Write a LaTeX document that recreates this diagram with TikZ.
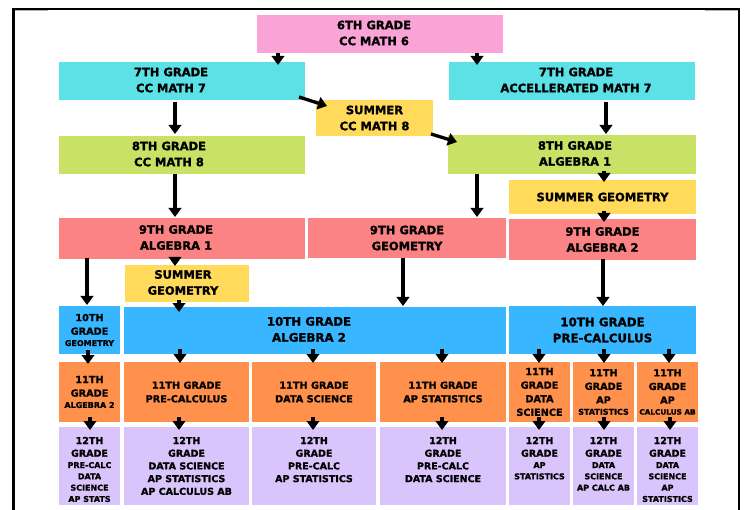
\documentclass[tikz,border=0pt]{standalone}
\usepackage{fontspec}
\setmainfont{DejaVu Sans}[BoldFeatures={FakeBold=1.3}]
\usetikzlibrary{arrows.meta}
\definecolor{cpink}{HTML}{F9A3D7}
\definecolor{ccyan}{HTML}{5CE1E6}
\definecolor{cgreen}{HTML}{C9E265}
\definecolor{cyel}{HTML}{FFDA5B}
\definecolor{csal}{HTML}{FC8383}
\definecolor{cblue}{HTML}{38B6FF}
\definecolor{corange}{HTML}{FF914D}
\definecolor{clav}{HTML}{D9C5FB}
\newcommand\sh[2]{\hspace*{#1}\begin{tabular}{@{}c@{}}#2\end{tabular}\hspace*{-#1}}
\newcommand\fsm{\fontsize{8}{11.3}\selectfont}
\newcommand\fsc{\fontsize{7.3}{11}\selectfont}
\newcommand\tp[2]{\parbox[c][78pt][t]{#1}{\centering\rule{0pt}{17pt}#2}}
\newcommand\cpb[2]{\parbox{#1}{\centering #2}}
\begin{document}
\begin{tikzpicture}[x=1pt,y=-1pt,
  fbig/.style={font=\bfseries\fontsize{11.5}{16}\selectfont},
  ften/.style={font=\bfseries\fontsize{11.8}{16}\selectfont},
  fel/.style={font=\bfseries\fontsize{9.7}{13.6}\selectfont},
  ftw/.style={font=\bfseries\fontsize{9.5}{12.7}\selectfont},
  bx/.style n args={4}{inner sep=0pt, outer sep=0pt, align=center,
    minimum width={(#3-#1)*1pt}, minimum height={(#4-#2)*1pt},
    at={({(#1+#3)/2},{(#2+#4)/2})}, anchor=center, fbig},
  arr/.style={line width=3.3pt, -{Triangle[width=12.5pt,length=9pt]}},
  frame/.style={line width=2.4pt, black}]
\useasboundingbox (0,0) rectangle (746,510);
\fill[white] (0,0) rectangle (746,510);
% frame
\draw[frame] (13.5,511) -- (13.5,9) -- (739,9);
\draw[line width=2pt] (739,8) -- (739,511);
\draw[gray!60, line width=1pt] (15,10.8) -- (48,10.8);
\draw[gray!60, line width=1pt] (705,10.8) -- (737.5,10.8);
% boxes
\node[bx={257}{15}{503}{53}, fill=cpink] (s6) {\sh{-6pt}{6TH GRADE\\CC MATH 6}};
\node[bx={59}{62}{305}{100}, fill=ccyan] (c7) {\sh{-11pt}{7TH GRADE\\CC MATH 7}};
\node[bx={449}{62}{695}{100}, fill=ccyan] (a7) {\sh{4pt}{7TH GRADE\\ACCELLERATED MATH 7}};
\node[bx={316}{100}{433}{136}, fill=cyel] (sm8) {SUMMER\\CC MATH 8};
\node[bx={59}{136}{305}{174}, fill=cgreen] (c8) {\sh{-13pt}{8TH GRADE\\CC MATH 8}};
\node[bx={448}{135}{696}{174}, fill=cgreen] (a8) {\sh{3pt}{8TH GRADE\\ALGEBRA 1}};
\node[bx={509}{180}{696}{214}, fill=cyel] (sgR) {SUMMER GEOMETRY};
\node[bx={59}{218}{305}{259}, fill=csal] (al9) {\sh{-6pt}{9TH GRADE\\ALGEBRA 1}};
\node[bx={308}{218}{506}{258}, fill=csal] (g9) {9TH GRADE\\GEOMETRY};
\node[bx={509}{219}{696}{260}, fill=csal] (al9R) {9TH GRADE\\ALGEBRA 2};
\node[bx={125}{265}{249}{302}, fill=cyel] (sgL) {\sh{-4pt}{SUMMER\\GEOMETRY}};
\node[bx={59}{306}{120}{354}, fill=cblue, fel] (ge10) {\cpb{60pt}{10TH\\GRADE\\\fsm GEOMETRY}};
\node[bx={124}{307}{506}{354}, fill=cblue, ften] (al10) {\sh{-6pt}{10TH GRADE\\ALGEBRA 2}};
\node[bx={509}{306}{696}{354}, fill=cblue, ften] (pc10) {10TH GRADE\\PRE-CALCULUS};
% 11th grade
\node[bx={59}{362}{120}{422}, fill=corange, fel] (al11) {\cpb{60pt}{11TH\\GRADE\\\fsm ALGEBRA 2}};
\node[bx={124}{362}{249}{422}, fill=corange, fel] (pc11) {11TH GRADE\\PRE-CALCULUS};
\node[bx={252}{362}{376}{422}, fill=corange, fel] (ds11) {11TH GRADE\\DATA SCIENCE};
\node[bx={380}{362}{506}{422}, fill=corange, fel] (ap11) {11TH GRADE\\AP STATISTICS};
\node[bx={509}{362}{570}{422}, fill=corange, fel] (ds11R) {11TH\\GRADE\\DATA\\SCIENCE};
\node[bx={573}{362}{634}{422}, fill=corange, fel] (ap11R) {\cpb{61pt}{11TH\\GRADE\\AP\\\fsm STATISTICS}};
\node[bx={637}{362}{698}{422}, fill=corange, fel] (cb11R) {\cpb{61pt}{11TH\\GRADE\\AP\\\fsc CALCULUS AB}};
% 12th grade
\node[bx={59}{427}{120}{505}, fill=clav, ftw] (t1) {\tp{61pt}{12TH\\GRADE\\\fsm PRE-CALC\\DATA\\SCIENCE\\AP STATS}};
\node[bx={124}{427}{249}{505}, fill=clav, ftw] (t2) {\tp{125pt}{12TH\\GRADE\\DATA SCIENCE\\AP STATISTICS\\AP CALCULUS AB}};
\node[bx={252}{427}{376}{505}, fill=clav, ftw] (t3) {\tp{124pt}{12TH\\GRADE\\PRE-CALC\\AP STATISTICS}};
\node[bx={380}{427}{506}{505}, fill=clav, ftw] (t4) {\tp{126pt}{12TH\\GRADE\\PRE-CALC\\DATA SCIENCE}};
\node[bx={509}{427}{570}{505}, fill=clav, ftw] (t5) {\tp{61pt}{12TH\\GRADE\\\fsm AP\\STATISTICS}};
\node[bx={573}{427}{634}{505}, fill=clav, ftw] (t6) {\tp{61pt}{12TH\\GRADE\\\fsm DATA\\SCIENCE\\AP CALC AB}};
\node[bx={637}{427}{698}{505}, fill=clav, ftw] (t7) {\tp{61pt}{12TH\\GRADE\\\fsm DATA\\SCIENCE\\AP\\STATISTICS}};
% arrows
\draw[arr] ([xshift=-102pt]s6.south) -- ([xshift=96pt,yshift=-3pt]c7.north);
\draw[arr] ([xshift=97pt]s6.south) -- ([xshift=-95pt,yshift=-3pt]a7.north);
\draw[arr] ([xshift=-7pt,yshift=-2pt]c7.south) -- ([xshift=-7pt,yshift=2pt]c8.north);
\draw[arr] ([xshift=-6pt,yshift=3pt]c7.south east) -- ([xshift=11pt,yshift=-6pt]sm8.north west);
\draw[arr] ([xshift=-2pt,yshift=2pt]sm8.south east) -- ([xshift=9pt,yshift=-7pt]a8.north west);
\draw[arr] ([xshift=34pt,yshift=-2pt]a7.south) -- ([xshift=34pt,yshift=1pt]a8.north);
\draw[arr] ([xshift=-7pt]c8.south) -- ([xshift=-7pt,yshift=1pt]al9.north);
\draw[arr] ([xshift=-95pt]a8.south) -- ([xshift=70pt,yshift=1pt]g9.north);
\draw[arr] ([xshift=32pt,yshift=3pt]a8.south) -- ([xshift=1.5pt,yshift=-2pt]sgR.north);
\draw[arr] ([xshift=1.5pt,yshift=3pt]sgR.south) -- ([xshift=1.5pt,yshift=-3pt]al9R.north);
\draw[arr] ([xshift=-95pt,yshift=1pt]al9.south) -- ([xshift=-2.5pt,yshift=1pt]ge10.north);
\draw[arr] ([xshift=-7pt,yshift=2pt]al9.south) -- ([xshift=-12pt,yshift=-1pt]sgL.north);
\draw[arr] ([xshift=-8pt,yshift=2pt]sgL.south) -- ([xshift=-136pt,yshift=-5pt]al10.north);
\draw[arr] ([xshift=-4pt]g9.south) -- ([xshift=88pt,yshift=1pt]al10.north);
\draw[arr] ([xshift=0.5pt,yshift=1pt]al9R.south) -- ([xshift=0.5pt]pc10.north);
\draw[arr] ([xshift=-1.5pt,yshift=4pt]ge10.south) -- ([xshift=-1.5pt,yshift=-2pt]al11.north);
\draw[arr] ([xshift=-135pt,yshift=5pt]al10.south) -- ([xshift=-6.5pt,yshift=-1pt]pc11.north);
\draw[arr] ([xshift=-2pt,yshift=5pt]al10.south) -- ([xshift=-1pt,yshift=-1pt]ds11.north);
\draw[arr] ([xshift=127pt,yshift=5pt]al10.south) -- ([xshift=-1pt,yshift=-1pt]ap11.north);
\draw[arr] ([xshift=-63.5pt,yshift=5pt]pc10.south) -- ([xshift=-0.5pt,yshift=-1pt]ds11R.north);
\draw[arr] ([xshift=1.5pt,yshift=5pt]pc10.south) -- ([xshift=0.5pt,yshift=-1pt]ap11R.north);
\draw[arr] ([xshift=66.5pt,yshift=5pt]pc10.south) -- ([xshift=1.5pt,yshift=-1pt]cb11R.north);
\draw[arr] ([xshift=0.5pt,yshift=5pt]al11.south) -- ([xshift=0.5pt,yshift=-3pt]t1.north);
\draw[arr] ([xshift=-7.5pt,yshift=5pt]pc11.south) -- ([xshift=-7.5pt,yshift=-3pt]t2.north);
\draw[arr] ([xshift=-1pt,yshift=5pt]ds11.south) -- ([xshift=-1pt,yshift=-3pt]t3.north);
\draw[arr] ([xshift=-1pt,yshift=5pt]ap11.south) -- ([xshift=-1pt,yshift=-3pt]t4.north);
\draw[arr] ([xshift=-0.5pt,yshift=5pt]ds11R.south) -- ([xshift=-0.5pt,yshift=-3pt]t5.north);
\draw[arr] ([xshift=0.5pt,yshift=5pt]ap11R.south) -- ([xshift=0.5pt,yshift=-3pt]t6.north);
\draw[arr] ([xshift=2.5pt,yshift=5pt]cb11R.south) -- ([xshift=2.5pt,yshift=-3pt]t7.north);
\end{tikzpicture}
\end{document}
